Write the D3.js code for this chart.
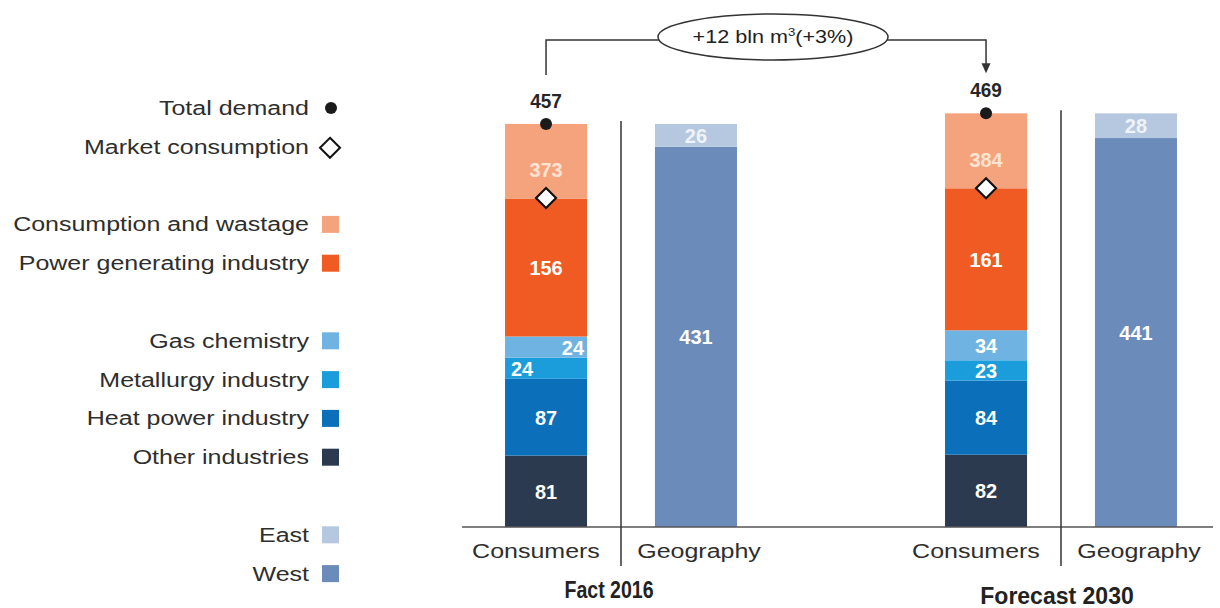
<!DOCTYPE html>
<html>
<head>
<meta charset="utf-8">
<script src="https://cdn.jsdelivr.net/npm/d3@7"></script>
<style>
  html, body { margin: 0; padding: 0; background: #ffffff; }
  svg { display: block; }
</style>
</head>
<body>
<svg id="chart" width="1220" height="608"></svg>
<script>
// ---- data (bln m3) ----
const groups = ["Fact 2016", "Forecast 2030"];
const subCategories = ["Consumers", "Geography"];

const consumerSeries = [
  "Other industries",
  "Heat power industry",
  "Metallurgy industry",
  "Gas chemistry",
  "Power generating industry",
  "Consumption and wastage"
];
const otherIndustries    = [81, 82];
const heatPower          = [87, 84];
const metallurgy         = [24, 23];
const gasChemistry       = [24, 34];
const powerGenerating    = [156, 161];
const consumptionWastage = [85, 85];

const totalDemand        = [457, 469];
const marketConsumption  = [373, 384];

const geoSeries = ["West", "East"];
const west = [431, 441];
const east = [26, 28];

const changeValue = "+12 bln m";
const changeTail = "(+3%)";

// ---- styling ----
const colors = {
  "Other industries": "#2c3a4f",
  "Heat power industry": "#0b6fba",
  "Metallurgy industry": "#1b9cdb",
  "Gas chemistry": "#6fb3e3",
  "Power generating industry": "#ef5b22",
  "Consumption and wastage": "#f5a37c",
  "East": "#b6c8df",
  "West": "#6b8bbb"
};
const FONT = "'Liberation Sans', Arial, sans-serif";
const TEXT = "#2e2e2e";

const svg = d3.select("#chart");

const consumerRows = groups.map((g, i) => ({
  group: g,
  "Other industries": otherIndustries[i],
  "Heat power industry": heatPower[i],
  "Metallurgy industry": metallurgy[i],
  "Gas chemistry": gasChemistry[i],
  "Power generating industry": powerGenerating[i],
  "Consumption and wastage": consumptionWastage[i]
}));
const geoRows = groups.map((g, i) => ({ group: g, West: west[i], East: east[i] }));

// ---- scales ----
const y = d3.scaleLinear().domain([0, 500]).range([527, 86]);
const groupX = d3.scalePoint().domain(groups).range([621, 1061]);
const subX = d3.scaleBand().domain(subCategories).range([-150, 150])
  .paddingInner(0.453).paddingOuter(0.227);
const bw = subX.bandwidth();
const barLeft = (g, s) => groupX(g) + subX(s);
const barMid = (g, s) => barLeft(g, s) + bw / 2;

// horizontally stretched text helper
function label(parent, x, yy, str, o = {}) {
  const g = parent.append("g")
    .attr("transform", `translate(${x},${yy}) scale(${o.sx || 1},1)`);
  const t = g.append("text")
    .attr("x", 0).attr("y", 0)
    .attr("text-anchor", o.anchor || "middle")
    .attr("font-family", FONT)
    .attr("font-size", o.size || 20)
    .attr("font-weight", o.weight || "normal")
    .attr("fill", o.fill || TEXT)
    .text(str);
  return t;
}

// ---- stacked bars: consumers ----
const consStack = d3.stack().keys(consumerSeries)(consumerRows);
const consLayer = svg.append("g");
consStack.forEach(layer => {
  consLayer.selectAll(null).data(layer).enter().append("rect")
    .attr("x", d => barLeft(d.data.group, "Consumers"))
    .attr("width", bw)
    .attr("y", d => y(d[1]))
    .attr("height", d => y(d[0]) - y(d[1]))
    .attr("fill", colors[layer.key]);
});

// ---- stacked bars: geography ----
const geoStack = d3.stack().keys(geoSeries)(geoRows);
const geoLayer = svg.append("g");
geoStack.forEach(layer => {
  geoLayer.selectAll(null).data(layer).enter().append("rect")
    .attr("x", d => barLeft(d.data.group, "Geography"))
    .attr("width", bw)
    .attr("y", d => y(d[1]))
    .attr("height", d => y(d[0]) - y(d[1]))
    .attr("fill", colors[layer.key]);
});

// ---- segment value labels ----
const segAlign = {
  "Fact 2016|Gas chemistry": "end",
  "Fact 2016|Metallurgy industry": "start"
};
const valLayer = svg.append("g");
const SEG_FONT = 21;
consStack.forEach(layer => {
  if (layer.key === "Consumption and wastage") return;
  layer.forEach(d => {
    const g = d.data.group;
    const align = segAlign[g + "|" + layer.key] || "middle";
    let x = barMid(g, "Consumers");
    if (align === "end") x = barLeft(g, "Consumers") + bw - 3;
    if (align === "start") x = barLeft(g, "Consumers") + 6;
    const cy = (y(d[0]) + y(d[1])) / 2;
    label(valLayer, x, cy + SEG_FONT * 0.36, d.data[layer.key],
      { size: SEG_FONT, weight: "bold", fill: "#ffffff", anchor: align, sx: 0.95 });
  });
});
geoStack.forEach(layer => {
  layer.forEach(d => {
    const cy = (y(d[0]) + y(d[1])) / 2;
    label(valLayer, barMid(d.data.group, "Geography"), cy + SEG_FONT * 0.36,
      d.data[layer.key],
      { size: SEG_FONT, weight: "bold", sx: 0.95,
        fill: layer.key === "East" ? "#eef3fa" : "#ffffff" });
  });
});

// ---- market consumption diamonds + labels ----
const markLayer = svg.append("g");
const diamond = (cx, cy, r) =>
  `M${cx},${cy - r}L${cx + r},${cy}L${cx},${cy + r}L${cx - r},${cy}Z`;
groups.forEach((g, i) => {
  const cx = barMid(g, "Consumers");
  const cy = y(marketConsumption[i]);
  label(markLayer, cx, cy - 29 + SEG_FONT * 0.36, marketConsumption[i],
    { size: SEG_FONT, weight: "bold", fill: "#fde3d2", sx: 0.95 });
  markLayer.append("path")
    .attr("d", diamond(cx, cy, 10))
    .attr("fill", "#ffffff").attr("stroke", "#111").attr("stroke-width", 2.2);
});

// ---- total demand dots + labels ----
groups.forEach((g, i) => {
  const cx = barMid(g, "Consumers");
  const cy = y(totalDemand[i]);
  markLayer.append("circle").attr("cx", cx).attr("cy", cy).attr("r", 6)
    .attr("fill", "#1a1a1a");
  label(markLayer, cx, cy - 16, totalDemand[i],
    { size: 20, weight: "bold", fill: "#262626", sx: 0.95 });
});

// ---- baseline and group dividers ----
svg.append("line")
  .attr("x1", 462).attr("x2", 1213).attr("y1", y(0)).attr("y2", y(0))
  .attr("stroke", "#555").attr("stroke-width", 1.6);
groups.forEach((g, i) => {
  svg.append("line")
    .attr("x1", groupX(g)).attr("x2", groupX(g))
    .attr("y1", y(totalDemand[i]) - 3).attr("y2", 566)
    .attr("stroke", "#333").attr("stroke-width", 1.5);
});

// ---- category labels ----
const axisLayer = svg.append("g");
const subOffset = { "Consumers": -85, "Geography": 78 };
groups.forEach(g => {
  subCategories.forEach(s => {
    label(axisLayer, groupX(g) + subOffset[s], 558, s, { size: 20, sx: 1.25 });
  });
});
label(axisLayer, groupX(groups[0]) - 12, 598, groups[0],
  { size: 23, weight: "bold", sx: 0.85, fill: "#222" });
label(axisLayer, groupX(groups[1]) - 4, 604, groups[1],
  { size: 23, weight: "bold", sx: 1.0, fill: "#222" });

// ---- change annotation ----
const ann = svg.append("g").attr("fill", "none").attr("stroke", "#333").attr("stroke-width", 1.5);
const x0 = barMid(groups[0], "Consumers");
const x1 = barMid(groups[1], "Consumers");
const ex = 773, ey = 37, erx = 115, ery = 23, ly = 40;
ann.append("path").attr("d", `M${x0},${y(totalDemand[0]) - 49}V${ly}H${ex - erx + 1}`);
ann.append("path").attr("d", `M${ex + erx - 1},${ly}H${x1}V${y(totalDemand[1]) - 47}`);
ann.append("ellipse").attr("cx", ex).attr("cy", ey).attr("rx", erx).attr("ry", ery)
  .attr("fill", "#fff");
svg.append("path")
  .attr("d", `M${x1 - 4.5},${y(totalDemand[1]) - 50}L${x1 + 4.5},${y(totalDemand[1]) - 50}L${x1},${y(totalDemand[1]) - 40}Z`)
  .attr("fill", "#333");
const annText = svg.append("g").attr("transform", `translate(${ex},${ey + 6}) scale(1.2,1)`)
  .append("text").attr("text-anchor", "middle")
  .attr("font-family", FONT).attr("font-size", 18).attr("fill", "#222");
annText.append("tspan").text(changeValue);
annText.append("tspan").attr("font-size", 11).attr("dy", -7).text("3");
annText.append("tspan").attr("dy", 7).text(changeTail);

// ---- legend ----
const legend = svg.append("g");
const LX = 309, step = 38.8, top0 = 108;
const legendRows = [
  { name: "Total demand", slot: 0, kind: "dot" },
  { name: "Market consumption", slot: 1, kind: "diamond" },
  { name: "Consumption and wastage", slot: 3, kind: "swatch" },
  { name: "Power generating industry", slot: 4, kind: "swatch" },
  { name: "Gas chemistry", slot: 6, kind: "swatch" },
  { name: "Metallurgy industry", slot: 7, kind: "swatch" },
  { name: "Heat power industry", slot: 8, kind: "swatch" },
  { name: "Other industries", slot: 9, kind: "swatch" },
  { name: "East", slot: 11, kind: "swatch" },
  { name: "West", slot: 12, kind: "swatch" }
];
legendRows.forEach(r => {
  const cy = top0 + r.slot * step;
  label(legend, LX, cy + 7, r.name, { size: 20, sx: 1.25, anchor: "end", fill: "#2e2e2e" });
  if (r.kind === "dot") {
    legend.append("circle").attr("cx", 331).attr("cy", cy).attr("r", 6).attr("fill", "#1a1a1a");
  } else if (r.kind === "diamond") {
    legend.append("path").attr("d", diamond(330, cy + 1, 10))
      .attr("fill", "#fff").attr("stroke", "#111").attr("stroke-width", 2);
  } else {
    legend.append("rect").attr("x", 322).attr("y", cy - 8.5).attr("width", 17).attr("height", 17)
      .attr("fill", colors[r.name]);
  }
});
</script>
</body>
</html>
